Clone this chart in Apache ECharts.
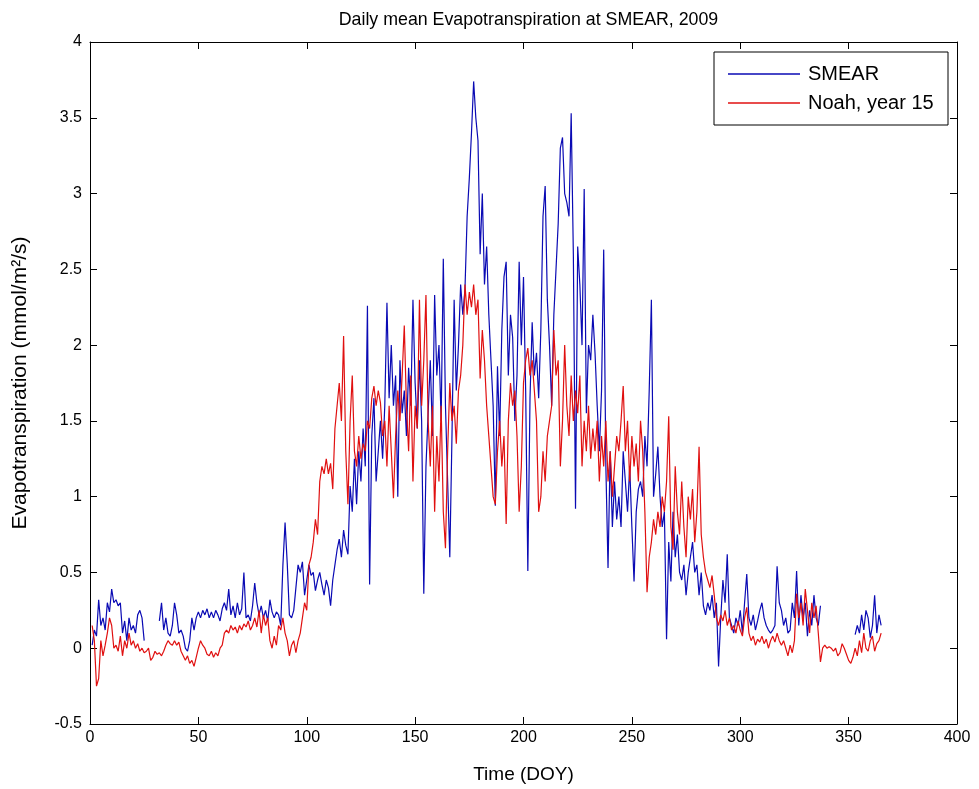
<!DOCTYPE html>
<html>
<head>
<meta charset="utf-8">
<script src="https://cdn.jsdelivr.net/npm/echarts@6/dist/echarts.min.js"></script>
<style>
  html, body { margin: 0; padding: 0; background: #fff; }
  #chart { width: 979px; height: 789px; }
</style>
</head>
<body>
<div id="chart"></div>
<script>
// Daily mean evapotranspiration, DOY 1..365 (mmol/m2/s). null = missing day.
const smear = [
  0.02, 0.12, 0.08, 0.32, 0.15, 0.2, 0.12, 0.3, 0.24, 0.39,
  0.3, 0.32, 0.28, 0.3, 0.1, 0.18, 0.05, 0.2, 0.12, 0.15,
  0.1, 0.22, 0.25, 0.2, 0.05, null, null, null, null, null,
  null, 0.18, 0.3, 0.12, 0.2, 0.1, 0.08, 0.15, 0.3, 0.22,
  0.1, 0.12, 0.08, 0.0, -0.02, 0.05, 0.2, 0.12, 0.2, 0.24,
  0.2, 0.25, 0.22, 0.26, 0.2, 0.24, 0.2, 0.25, 0.22, 0.18,
  0.26, 0.3, 0.25, 0.39, 0.22, 0.28, 0.2, 0.3, 0.22, 0.26,
  0.5, 0.2, 0.22, 0.18, 0.28, 0.43, 0.3, 0.22, 0.28, 0.2,
  0.25, 0.18, 0.32, 0.24, 0.2, 0.24, 0.22, 0.15, 0.55, 0.83,
  0.56, 0.22, 0.2, 0.25, 0.4, 0.55, 0.5, 0.57, 0.35, 0.45,
  0.55, 0.48, 0.5, 0.38, 0.45, 0.5, 0.42, 0.35, 0.45, 0.4,
  0.28, 0.45, 0.55, 0.65, 0.72, 0.6, 0.78, 0.68, 0.62, 1.07,
  0.9, 1.25, 0.95, 1.3, 1.1, 1.45, 1.2, 2.26, 0.42, 1.4,
  1.65, 1.1, 1.3, 1.5, 1.25, 1.6, 2.28, 1.65, 2.0, 1.6,
  1.8, 1.0, 1.9, 1.55, 1.7, 1.4, 1.85, 1.6, 2.3, 1.75,
  1.45, 1.9, 1.5, 0.36, 1.2, 1.55, 1.9, 1.4, 2.33, 1.8,
  2.0, 1.5, 2.57, 1.6, 1.1, 0.6, 1.4, 2.3, 1.7, 2.0,
  2.4, 2.2, 2.37, 2.85, 3.1, 3.4, 3.74, 3.5, 3.35, 2.6,
  3.0, 2.4, 2.65, 2.2, 1.9, 1.6, 0.94, 1.86, 1.4, 2.1,
  2.45, 2.55, 1.8, 2.2, 2.05, 1.5, 1.8, 2.55, 2.0, 2.45,
  1.7, 0.51, 1.65, 2.15, 1.8, 1.95, 1.65, 2.1, 2.85, 3.05,
  2.3, 2.0, 1.6, 2.2, 2.5, 2.8, 3.3, 3.37, 3.0, 2.94,
  2.85, 3.53, 2.6, 0.92, 2.65, 2.4, 2.0, 3.03, 1.55, 2.0,
  1.9, 2.2, 1.95, 1.6, 1.3, 1.7, 2.63, 1.2, 0.53, 1.3,
  0.8, 1.1, 0.85, 1.0, 0.8, 1.3, 1.1, 0.9, 1.2, 0.8,
  0.44, 0.9, 1.05, 1.1, 1.0, 1.4, 1.2, 1.7, 2.3, 1.0,
  1.15, 1.33, 1.0, 0.8, 0.9, 0.06, 0.7, 0.44, 0.9, 0.6,
  0.75, 0.5, 0.45, 0.55, 0.35, 0.5, 0.6, 0.7, 0.5, 0.55,
  0.35, 0.5, 0.28, 0.22, 0.3, 0.25, 0.35, 0.2, 0.3, -0.12,
  0.2, 0.45, 0.3, 0.62, 0.2, 0.15, 0.1, 0.2, 0.15, 0.25,
  0.1, 0.3, 0.49, 0.2, 0.15, 0.22, 0.12, 0.18, 0.25, 0.3,
  0.2, 0.15, 0.12, 0.1, 0.12, 0.15, 0.54, 0.3, 0.25, 0.15,
  0.2, 0.1, 0.12, 0.3, 0.2, 0.51, 0.15, 0.35, 0.2, 0.3,
  0.08, 0.25, 0.15, 0.35, 0.2, 0.15, 0.28, null, null, null,
  null, null, null, null, null, null, null, null, null, null,
  null, null, 0.09, 0.15, 0.1, 0.22, 0.12, 0.25, 0.2, 0.07,
  0.15, 0.35, 0.1, 0.22, 0.15
];

const noah = [
  0.15, 0.05, -0.25, -0.2, 0.05, -0.05, 0.02, 0.1, 0.2, 0.15,
  0.0, 0.02, -0.02, 0.08, -0.05, 0.05, 0.0, 0.1, 0.02, 0.05,
  0.0, 0.03, -0.02, 0.0, -0.03, -0.02, 0.0, -0.08, -0.06, -0.02,
  -0.04, -0.03, -0.05, -0.02, 0.02, 0.05, 0.03, 0.02, 0.05, 0.02,
  0.04, -0.02, -0.05, -0.08, -0.05, -0.1, -0.08, -0.12, -0.06, 0.0,
  0.05, 0.02, 0.0, -0.04, -0.05, -0.02, -0.06, -0.03, -0.05, 0.0,
  0.02, 0.1, 0.12, 0.1, 0.15, 0.12, 0.14, 0.1, 0.15, 0.12,
  0.16, 0.14, 0.18, 0.12, 0.15, 0.2, 0.14, 0.25, 0.1, 0.22,
  0.15, 0.2, 0.05, 0.0, 0.08, 0.02, 0.15, 0.12, 0.2, 0.1,
  0.05, -0.05, 0.02, 0.05, -0.03, 0.05, 0.1, 0.2, 0.3, 0.25,
  0.55, 0.6, 0.7, 0.85, 0.75, 1.1, 1.2, 1.15, 1.25, 1.15,
  1.22, 1.05, 1.45, 1.6, 1.75, 1.5, 2.06, 1.3, 0.95, 1.5,
  1.8, 1.3, 1.2, 1.4, 1.25, 1.35, 1.3, 1.5, 1.45, 1.65,
  1.73, 1.6, 1.7, 1.62, 1.4, 1.5, 1.2, 1.6, 1.3, 0.99,
  1.4, 1.7, 1.5, 1.8, 2.13, 1.6, 1.3, 1.8, 1.1, 1.6,
  1.45, 2.3, 1.6, 1.9, 2.33, 1.5, 1.2, 1.6, 0.9, 1.4,
  1.1, 1.6, 0.9, 0.66, 1.3, 1.75, 1.5, 1.6, 1.35, 1.7,
  1.8, 2.0, 2.4, 2.2, 2.35, 2.25, 2.4, 2.2, 2.3, 1.78,
  2.1, 1.9, 1.6, 1.4, 1.2, 1.0, 0.95, 1.3, 1.5, 1.2,
  1.4, 0.82, 1.5, 1.75, 1.6, 1.7, 1.4, 0.9, 1.2, 1.75,
  1.9, 1.98, 1.8, 1.9, 1.7, 1.5, 0.9, 1.0, 1.3, 1.1,
  1.4, 1.5, 1.6, 2.1, 1.8, 1.9, 1.2, 1.5, 2.0, 1.6,
  1.4, 1.8, 1.5, 1.7, 1.55, 1.8, 1.2, 1.5, 1.3, 1.6,
  1.25, 1.45, 1.3, 1.5, 1.1, 1.4, 1.2, 1.5, 1.1, 1.3,
  1.0, 1.2, 1.4, 1.3, 1.5, 1.73, 1.3, 1.5, 1.1, 1.4,
  1.2, 1.35, 1.1, 1.5, 1.3, 0.9, 0.37, 0.6, 0.7, 0.85,
  0.75, 0.9, 0.8, 1.0, 0.9, 1.1, 1.53, 0.8, 0.65, 1.2,
  0.9, 0.75, 1.1, 0.8, 0.6, 1.0, 0.85, 1.05, 0.7, 0.9,
  1.33, 0.75, 0.6, 0.5, 0.45, 0.4, 0.48, 0.35, 0.2, 0.15,
  0.22, 0.18, 0.25, 0.15, 0.2, 0.12, 0.15, 0.1, 0.18, 0.12,
  0.08, 0.2, 0.27, 0.1, 0.05, 0.08, 0.02, 0.06, 0.04, 0.08,
  0.03, 0.06, 0.0, 0.05, 0.08, 0.04, 0.1, 0.05, 0.02, 0.05,
  0.0, -0.05, 0.02, -0.03, 0.05, 0.36, 0.2, 0.3, 0.15, 0.39,
  0.25, 0.1, 0.3, 0.2, 0.28, 0.1, -0.09, 0.0, 0.02, 0.0,
  0.01, 0.0, -0.02, 0.0, -0.05, -0.03, 0.03, 0.0, -0.04, -0.08,
  -0.1, -0.06, 0.0, -0.05, 0.05, -0.03, 0.1, 0.0, -0.02, 0.05,
  0.08, -0.02, 0.03, 0.05, 0.1
];

const seriesNames = ['SMEAR', 'Noah, year 15'];
const seriesColors = ['#0a0ab4', '#e01010'];
const xTicks = { min: 0, max: 400, step: 50 };
const yTicks = { min: -0.5, max: 4, step: 0.5 };

// pair each value with its day of year (1-based)
const toPoints = vals => vals.map((v, i) => [i + 1, v]);

const FONT = '"Liberation Sans", Arial, Helvetica, sans-serif';
const plot = { left: 90, right: 22, top: 42, bottom: 63 };

// axes with inward ticks; the top/right copies close the box
const frameAxis = extra => Object.assign({
  axisLine: { show: true, onZero: false, lineStyle: { color: '#000', width: 1 } },
  axisTick: { show: true, inside: true, length: 7, lineStyle: { color: '#000' } },
  splitLine: { show: false },
  axisLabel: { show: false }
}, extra);

const tickLabel = margin => ({ color: '#000', fontFamily: FONT, fontSize: 16, margin: margin });

const chart = echarts.init(document.getElementById('chart'), null, { renderer: 'canvas' });
chart.setOption({
  animation: false,
  backgroundColor: '#fff',
  title: {
    text: 'Daily mean Evapotranspiration at SMEAR, 2009',
    left: plot.left + (979 - plot.left - plot.right) / 2,
    textAlign: 'center',
    top: 6,
    textStyle: { fontFamily: FONT, fontSize: 17.8, fontWeight: 'normal', color: '#000' }
  },
  legend: {
    data: seriesNames.map(n => ({ name: n, icon: 'rect' })),
    orient: 'vertical',
    right: 31,
    top: 52,
    itemWidth: 72,
    itemHeight: 1.5,
    itemGap: 9,
    padding: [12, 2, 12, 14],
    borderColor: '#000',
    borderWidth: 1,
    backgroundColor: '#fff',
    textStyle: {
      fontFamily: FONT, fontSize: 20, color: '#000', lineHeight: 20,
      width: 138, overflow: 'none', padding: [0, 0, 0, 3]
    }
  },
  grid: plot,
  xAxis: [
    frameAxis({
      type: 'value', min: xTicks.min, max: xTicks.max, interval: xTicks.step,
      name: 'Time (DOY)', nameLocation: 'middle', nameGap: 41,
      nameTextStyle: { fontFamily: FONT, fontSize: 19, color: '#000' },
      axisLabel: tickLabel(6)
    }),
    frameAxis({
      type: 'value', position: 'top', min: xTicks.min, max: xTicks.max, interval: xTicks.step
    })
  ],
  yAxis: [
    frameAxis({
      type: 'value', min: yTicks.min, max: yTicks.max, interval: yTicks.step,
      name: 'Evapotranspiration (mmol/m²/s)', nameLocation: 'middle', nameGap: 59,
      nameTextStyle: { fontFamily: FONT, fontSize: 21, color: '#000' },
      axisLabel: tickLabel(8)
    }),
    frameAxis({
      type: 'value', position: 'right', min: yTicks.min, max: yTicks.max, interval: yTicks.step
    })
  ],
  series: [
    {
      name: seriesNames[0], type: 'line', data: toPoints(smear),
      symbol: 'none', showSymbol: false, connectNulls: false,
      lineStyle: { color: seriesColors[0], width: 1.2 }, itemStyle: { color: seriesColors[0] }
    },
    {
      name: seriesNames[1], type: 'line', data: toPoints(noah),
      symbol: 'none', showSymbol: false, connectNulls: false,
      lineStyle: { color: seriesColors[1], width: 1.2 }, itemStyle: { color: seriesColors[1] }
    }
  ]
});
</script>
</body>
</html>
